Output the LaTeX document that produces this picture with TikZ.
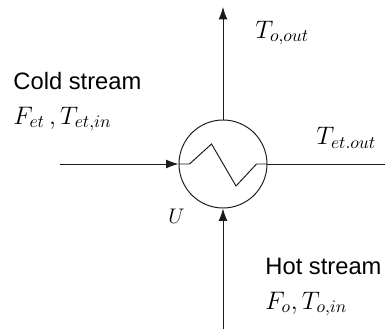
\documentclass[tikz,border=0pt]{standalone}
\usepackage{amsmath}
\usepackage{fontspec}
\setmainfont{Liberation Sans}
\usetikzlibrary{arrows.meta,positioning}
\definecolor{linedark}{HTML}{1A1A1A}

\begin{document}
\begin{tikzpicture}[>={Latex[length=7pt,width=5pt]},line width=0.55pt,draw=linedark,
  streamlabel/.style={anchor=west,inner sep=0pt,font=\fontsize{13.5}{15}\selectfont},
  mathlabel/.style={anchor=west,inner sep=0pt,font=\fontsize{14.6}{16}\selectfont}]
  \useasboundingbox (0,0) rectangle (7.7,6.58);
  \node[circle,draw,minimum size=1.76cm,inner sep=0pt] (hx) at (4.46,3.30) {};
  \coordinate (coldin) at (1.20,3.30);
  \coordinate (coldout) at (7.70,3.30);
  \coordinate (hotin) at (4.46,0);
  \coordinate (hotout) at (4.46,6.44);
  % streams
  \draw[->] (coldin) -- (hx.west);
  \draw (hx.east) -- (coldout);
  \draw[->] (hotin) -- (hx.south);
  \draw[->] (hx.north) -- (hotout);
  % coil
  \draw (hx.west) -- ++(0.22,0) -- ++(0.44,0.40) -- ++(0.49,-0.84) -- ++(0.41,0.44) -- (hx.east);
  \node[streamlabel] (coldname) at (0.26,4.96) {Cold stream};
  \node[mathlabel] (coldvars) at (0.26,4.20) {$F_{et}\,,T_{et,in}$};
  \node[mathlabel] (hotoutvar) at (5.10,5.92) {$T_{o,out}$};
  \node[mathlabel] (coldoutvar) at (6.32,3.82) {$T_{et.out}$};
  \node[mathlabel,font=\fontsize{12}{14}\selectfont] (coeff) at (3.36,2.26) {$U$};
  \node[streamlabel] (hotname) at (5.30,1.26) {Hot stream};
  \node[mathlabel] (hotvars) at (5.30,0.50) {$F_o,T_{o,in}$};
\end{tikzpicture}
\end{document}
